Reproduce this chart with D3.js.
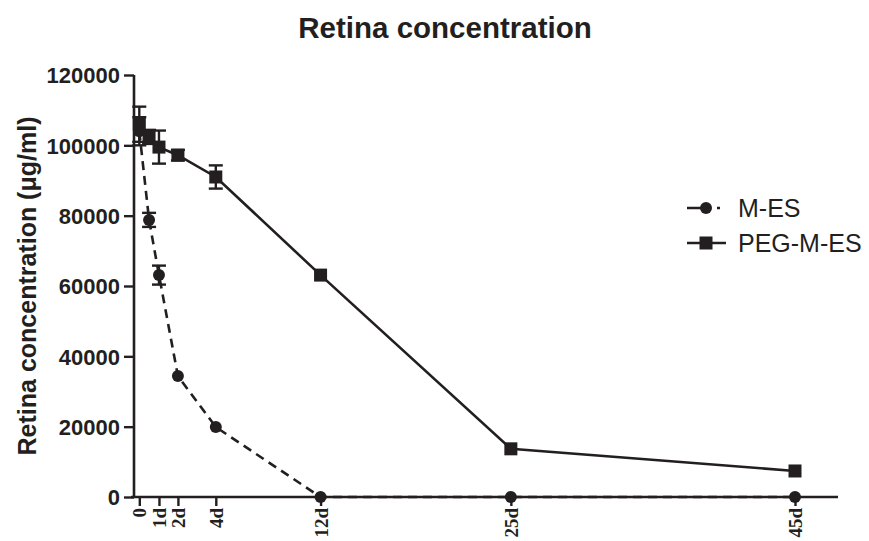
<!DOCTYPE html>
<html><head><meta charset="utf-8">
<script src="https://cdn.jsdelivr.net/npm/d3@7"></script>
<style>body{margin:0;background:#fff}</style>
</head><body><svg id="c" width="869" height="541"></svg>
<script>
// x positions (axis units, 45d = 45) for each sampled time
const timePos = [0, 0.67, 1.35, 2.65, 5.25, 12.44, 25.5, 45];
const tickPos = [0, 1.35, 2.65, 5.25, 12.44, 25.5, 45];
const tickLabels = ["0", "1d", "2d", "4d", "12d", "25d", "45d"];
const yTicks = [0, 20000, 40000, 60000, 80000, 100000, 120000];
const mesValues = [104000, 78800, 63100, 34400, 19900, 0, 0, 0];
const mesErrors = [4000, 2000, 2700, 0, 0, 0, 0, 0];
const pegValues = [106000, 102400, 99500, 97200, 91000, 63100, 13700, 7400];
const pegErrors = [5000, 2000, 4700, 1500, 3300, 0, 0, 0];
const seriesNames = ["M-ES", "PEG-M-ES"];

const svg = d3.select("#c");
const x = d3.scaleLinear().domain([0, 45]).range([139.3, 795]);
const y = d3.scaleLinear().domain([0, 120000]).range([497, 75]);
const stroke = "#231f20";
const sans = "Liberation Sans, Arial, sans-serif";

svg.append("text").attr("x", 445).attr("y", 38).attr("text-anchor", "middle")
  .attr("font-family", sans).attr("font-weight", "bold")
  .attr("font-size", 29.5).attr("fill", stroke).text("Retina concentration");

// Y axis
const yAx = svg.append("g").attr("transform", "translate(134,0)")
  .call(d3.axisLeft(y).tickValues(yTicks).tickSize(10).tickPadding(4).tickFormat(d3.format("d")));
yAx.select(".domain").attr("stroke", stroke).attr("stroke-width", 2.6).attr("d", "M0,75V497");
yAx.selectAll(".tick line").attr("stroke", stroke).attr("stroke-width", 2.4);
yAx.selectAll(".tick text").attr("font-family", sans)
  .attr("font-weight", "bold").attr("font-size", 22).attr("fill", stroke).attr("dy", "0.36em");

svg.append("text").attr("transform", "translate(36,286) rotate(-90)").attr("text-anchor", "middle")
  .attr("font-family", sans).attr("font-weight", "bold")
  .attr("font-size", 25).attr("fill", stroke).text("Retina concentration (\u03bcg/ml)");

// X axis
const xAx = svg.append("g").attr("transform", "translate(0,497)")
  .call(d3.axisBottom(x).tickValues(tickPos).tickSize(9).tickFormat((d, i) => tickLabels[i]));
xAx.select(".domain").attr("stroke", stroke).attr("stroke-width", 2.6).attr("d", "M131,0H838");
xAx.selectAll(".tick line").attr("stroke", stroke).attr("stroke-width", 2.4);
xAx.selectAll(".tick text").attr("font-family", "Liberation Serif, Times New Roman, serif")
  .attr("font-weight", "bold").attr("font-size", 19).attr("fill", stroke)
  .attr("text-anchor", "end").attr("transform", "rotate(-90)").attr("x", -11).attr("y", 0).attr("dy", "0.35em");

const data = [
  {name: seriesNames[0], vals: mesValues, errs: mesErrors, dash: "9,6", shape: "circle"},
  {name: seriesNames[1], vals: pegValues, errs: pegErrors, dash: null, shape: "square"}
];
const line = d3.line().x(d => x(d.t)).y(d => y(d.v));

data.forEach(s => {
  const pts = s.vals.map((v, i) => ({t: timePos[i], v, e: s.errs[i]}));
  const g = svg.append("g");
  g.append("path").datum(pts).attr("d", line).attr("fill", "none").attr("stroke", stroke)
    .attr("stroke-width", 2.6).attr("stroke-dasharray", s.dash);
  const eb = g.selectAll(".eb").data(pts.filter(p => p.e > 0)).enter().append("g");
  eb.append("line").attr("x1", p => x(p.t)).attr("x2", p => x(p.t))
    .attr("y1", p => y(p.v + p.e)).attr("y2", p => y(p.v - p.e)).attr("stroke", stroke).attr("stroke-width", 2.4);
  [1, -1].forEach(sg => eb.append("line").attr("x1", p => x(p.t) - 7).attr("x2", p => x(p.t) + 7)
    .attr("y1", p => y(p.v + sg * p.e)).attr("y2", p => y(p.v + sg * p.e)).attr("stroke", stroke).attr("stroke-width", 2.4));
  if (s.shape === "circle") {
    g.selectAll("circle").data(pts).enter().append("circle")
      .attr("cx", p => x(p.t)).attr("cy", p => y(p.v)).attr("r", 6).attr("fill", stroke);
  } else {
    g.selectAll("rect").data(pts).enter().append("rect")
      .attr("x", p => x(p.t) - 6.5).attr("y", p => y(p.v) - 6.5).attr("width", 13).attr("height", 13).attr("fill", stroke);
  }
});

// Legend
const lg = svg.append("g").attr("font-family", sans).attr("font-size", 25).attr("fill", stroke);
data.forEach((s, i) => {
  const ly = 208 + i * 35;
  lg.append("path").attr("d", `M687,${ly}H726`).attr("stroke", stroke).attr("stroke-width", 2.6)
    .attr("stroke-dasharray", s.dash ? "20,10,3,20" : null);
  if (s.shape === "circle") lg.append("circle").attr("cx", 706).attr("cy", ly).attr("r", 6).attr("fill", stroke);
  else lg.append("rect").attr("x", 699.5).attr("y", ly - 6.5).attr("width", 13).attr("height", 13).attr("fill", stroke);
  lg.append("text").attr("x", 738).attr("y", ly).attr("dy", "0.36em").text(s.name);
});
</script></body></html>
